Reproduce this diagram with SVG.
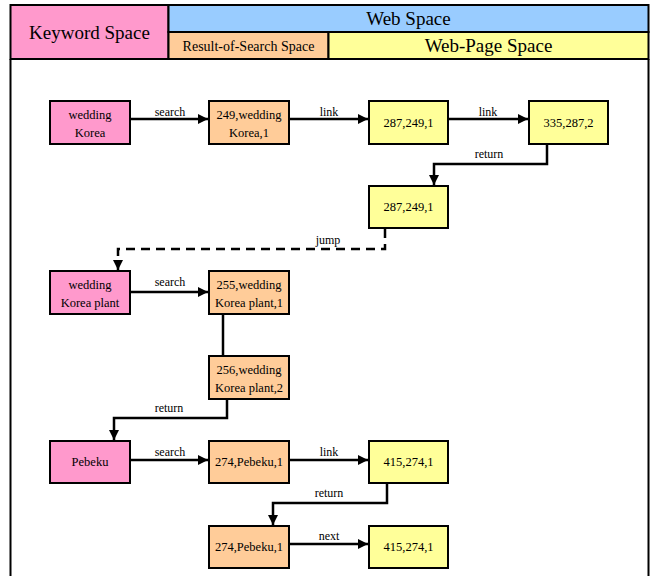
<svg xmlns="http://www.w3.org/2000/svg" width="653" height="576" viewBox="0 0 653 576">
<defs>
<style>
.hdr{stroke:#000;stroke-width:2}
.node rect{stroke:#000;stroke-width:2}
.kw{fill:#FF99CC}
.rs{fill:#FFCC99}
.wp{fill:#FFFF99}
text{fill:#000}
.nt{font-size:12.5px;text-anchor:middle}
.lbl{font-size:12px;text-anchor:middle}
.conn path{fill:none;stroke:#000;stroke-width:2.5}
.dash{stroke-dasharray:9,6}
</style>
<marker id="arr" markerWidth="10" markerHeight="10" viewBox="0 0 10 10" refX="10" refY="5" orient="auto" markerUnits="userSpaceOnUse">
<path d="M0,0 L10,5 L0,10 z" fill="#000"/>
</marker>
</defs>
<rect x="0" y="0" width="653" height="576" fill="#fff"/>
<g font-family="'Liberation Serif', 'Times New Roman', 'DejaVu Serif', serif">
<g id="header">
<rect class="hdr" x="10.5" y="5" width="158" height="54" fill="#FF99CC"/>
<rect class="hdr" x="168.5" y="5" width="480" height="27" fill="#99CCFF"/>
<rect class="hdr" x="168.5" y="32" width="160" height="27" fill="#FFCC99"/>
<rect class="hdr" x="328.5" y="32" width="320" height="27" fill="#FFFF99"/>
<text x="89.5" y="39" font-size="19" text-anchor="middle">Keyword Space</text>
<text x="408.5" y="25" font-size="19" text-anchor="middle">Web Space</text>
<text x="248.5" y="51" font-size="14" text-anchor="middle">Result-of-Search Space</text>
<text x="488.5" y="52" font-size="19" text-anchor="middle">Web-Page Space</text>
<line x1="10.5" y1="59" x2="10.5" y2="576" stroke="#000" stroke-width="2"/>
<line x1="648.5" y1="59" x2="648.5" y2="576" stroke="#000" stroke-width="2"/>
</g>
<g id="connectors" class="conn">
<path d="M131,119 H208" marker-end="url(#arr)"/>
<path d="M290,119 H368" marker-end="url(#arr)"/>
<path d="M449,119 H528" marker-end="url(#arr)"/>
<path d="M547,145 V164 H434 V185" marker-end="url(#arr)"/>
<path class="dash" d="M385,229 V249 H118 V270" marker-end="url(#arr)"/>
<path d="M131,292 H208" marker-end="url(#arr)"/>
<path d="M223,315 V355"/>
<path d="M227,400 V418 H114 V440" marker-end="url(#arr)"/>
<path d="M131,460 H208" marker-end="url(#arr)"/>
<path d="M290,460 H368" marker-end="url(#arr)"/>
<path d="M387,484 V503 H273 V525" marker-end="url(#arr)"/>
<path d="M290,544 H368" marker-end="url(#arr)"/>
<text class="lbl" x="170" y="116">search</text>
<text class="lbl" x="329" y="116">link</text>
<text class="lbl" x="488" y="116">link</text>
<text class="lbl" x="489" y="158">return</text>
<text class="lbl" x="328" y="244">jump</text>
<text class="lbl" x="170" y="286">search</text>
<text class="lbl" x="169" y="412">return</text>
<text class="lbl" x="170" y="456">search</text>
<text class="lbl" x="329" y="456">link</text>
<text class="lbl" x="329" y="497">return</text>
<text class="lbl" x="329" y="540">next</text>
</g>
<g id="n1" class="node"><rect class="kw" x="50" y="101" width="80" height="43"/><text class="nt" x="90" y="119">wedding</text><text class="nt" x="90" y="137">Korea</text></g>
<g id="n2" class="node"><rect class="rs" x="209" y="101" width="80" height="43"/><text class="nt" x="249" y="119">249,wedding</text><text class="nt" x="249" y="137">Korea,1</text></g>
<g id="n3" class="node"><rect class="wp" x="369" y="101" width="79" height="43"/><text class="nt" x="408.5" y="127">287,249,1</text></g>
<g id="n4" class="node"><rect class="wp" x="529" y="101" width="79" height="43"/><text class="nt" x="568.5" y="127">335,287,2</text></g>
<g id="n5" class="node"><rect class="wp" x="369" y="186" width="79" height="42"/><text class="nt" x="408.5" y="211">287,249,1</text></g>
<g id="n6" class="node"><rect class="kw" x="50" y="271" width="80" height="43"/><text class="nt" x="90" y="289">wedding</text><text class="nt" x="90" y="307">Korea plant</text></g>
<g id="n7" class="node"><rect class="rs" x="209" y="271" width="80" height="43"/><text class="nt" x="249" y="289">255,wedding</text><text class="nt" x="249" y="307">Korea plant,1</text></g>
<g id="n8" class="node"><rect class="rs" x="209" y="356" width="80" height="43"/><text class="nt" x="249" y="374">256,wedding</text><text class="nt" x="249" y="392">Korea plant,2</text></g>
<g id="n9" class="node"><rect class="kw" x="50" y="441" width="80" height="42"/><text class="nt" x="90" y="466">Pebeku</text></g>
<g id="n10" class="node"><rect class="rs" x="209" y="441" width="80" height="42"/><text class="nt" x="249" y="466">274,Pebeku,1</text></g>
<g id="n11" class="node"><rect class="wp" x="369" y="441" width="79" height="42"/><text class="nt" x="408.5" y="466">415,274,1</text></g>
<g id="n12" class="node"><rect class="rs" x="209" y="526" width="80" height="42"/><text class="nt" x="249" y="551">274,Pebeku,1</text></g>
<g id="n13" class="node"><rect class="wp" x="369" y="526" width="79" height="42"/><text class="nt" x="408.5" y="551">415,274,1</text></g>
</g>
</svg>
